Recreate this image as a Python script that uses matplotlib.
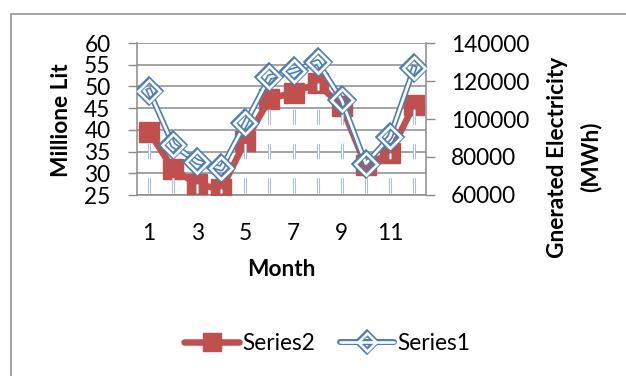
import matplotlib
matplotlib.use("Agg")
import matplotlib.pyplot as plt
from matplotlib.lines import Line2D
from matplotlib.patches import Rectangle

# ---- data ----
months = [1, 2, 3, 4, 5, 6, 7, 8, 9, 10, 11, 12]
series2 = [39.6, 30.9, 27.5, 26.3, 37.4, 47.1, 48.6, 50.7, 45.4, 31.8, 34.6, 45.7]   # Millione Lit (left)
series1 = [114900, 86300, 77500, 74000, 97700, 122000, 125500, 130000, 110000, 76500, 90500, 126700]  # MWh (right)
left_ticks = [25, 30, 35, 40, 45, 50, 55, 60]
right_ticks = [60000, 80000, 100000, 120000, 140000]
x_tick_labels = [1, 3, 5, 7, 9, 11]

plt.rcParams['font.family'] = ['Lato', 'DejaVu Sans']
plt.rcParams['lines.scale_dashes'] = False
FS = 16.3
GRID = '#8A8A8A'
RED = '#C0504D'
BLUE = '#4A7EBB'
DROP = '#A9C0E4'

W, H = 626, 376
fig = plt.figure(figsize=(W / 100, H / 100), dpi=100)
fig.patch.set_facecolor('white')

# chart border (only left and top visible)
fig.patches.append(Rectangle((11 / W, -0.2), 1.5, (1 - 14 / H) + 0.2, transform=fig.transFigure,
                             fill=False, edgecolor=GRID, linewidth=1.1, clip_on=False))

ax = fig.add_axes([137 / W, 1 - 195 / H, (426 - 137) / W, (195 - 43) / H])
ax.set_xlim(0.5, 12.5)
ax.set_ylim(25, 60)
ax.set_yticks(left_ticks)
ax.set_xticks(x_tick_labels)
ax.set_xticklabels([str(v) for v in x_tick_labels])
ax.tick_params(axis='y', length=6.5, width=1.0, color=GRID, pad=12.5, labelsize=FS)
ax.tick_params(axis='x', length=0, pad=20, labelsize=FS)
ax.grid(axis='y', color=GRID, linewidth=1.1)
ax.set_axisbelow(True)
for s in ['top', 'right']:
    ax.spines[s].set_visible(False)
for s in ['left', 'bottom']:
    ax.spines[s].set_color(GRID)
    ax.spines[s].set_linewidth(1.1)

# Series2 (left axis)
ax.plot(months, series2, color=RED, linewidth=4.7, marker='s', markersize=14.4,
        markerfacecolor=RED, markeredgecolor=RED, solid_joinstyle='round', zorder=3)

# drop lines (double light-blue dashed)
on, off = 11.0, 13.7
dash = (on + off - 1.4, (on, off))
ax.vlines(months, 25, series2, colors=DROP, linewidth=2.2, linestyles=[dash], zorder=4)
ax.vlines(months, 25, series2, colors='white', linewidth=0.7, linestyles=[dash], zorder=4.1)

# Series1 (right axis)
ax2 = ax.twinx()
ax2.set_ylim(60000, 140000)
ax2.set_yticks(right_ticks)
ax2.tick_params(axis='y', length=6.5, width=1.0, color=GRID, pad=11.5, labelsize=FS)
for s in ['top', 'left', 'bottom']:
    ax2.spines[s].set_visible(False)
ax2.spines['right'].set_color(GRID)
ax2.spines['right'].set_linewidth(1.1)
ax2.plot(months, series1, color=BLUE, linewidth=4.3, zorder=3)
ax2.plot(months, series1, color='white', linewidth=1.9, zorder=3.1)
ax2.plot(months, series1, linestyle='none', marker='D', markersize=10.8, markerfacecolor='none',
         markeredgecolor=BLUE, markeredgewidth=4.3, zorder=3.2)
ax2.plot(months, series1, linestyle='none', marker='D', markersize=10.8, markerfacecolor='none',
         markeredgecolor='white', markeredgewidth=1.9, zorder=3.3)

# axis titles
fig.text(62 / W, 1 - 120 / H, 'Millione Lit', rotation=90, ha='center', va='center',
         fontsize=FS, fontweight='bold')
fig.text(281.5 / W, 1 - 270 / H, 'Month', ha='center', va='center', fontsize=FS, fontweight='bold')
fig.text(574 / W, 1 - 157 / H, 'Gnerated Electricity\n(MWh)', rotation=90, ha='center', va='center',
         multialignment='center', fontsize=FS, fontweight='bold', linespacing=1.65)

# legend
h2 = Line2D([], [], color=RED, linewidth=4.7, marker='s', markersize=13, solid_capstyle='round',
            markerfacecolor=RED, markeredgecolor=RED)
h1a = Line2D([], [], color=BLUE, linewidth=4.3, marker='D', markersize=9.5, markerfacecolor='none',
             markeredgecolor=BLUE, markeredgewidth=4.3, solid_capstyle='round')
h1b = Line2D([], [], color='white', linewidth=1.9, marker='D', markersize=9.5, markerfacecolor='none',
             markeredgecolor='white', markeredgewidth=1.9, solid_capstyle='round')
fig.legend([h2, (h1a, h1b)], ['Series2', 'Series1'], loc='center',
           bbox_to_anchor=(327.5 / W, 1 - 343 / H), ncol=2, frameon=False, fontsize=FS,
           handlelength=2.4, handletextpad=0.15, columnspacing=1.1, numpoints=1,
           borderpad=0, borderaxespad=0)

fig.savefig('out.png', dpi=100, facecolor='white')
